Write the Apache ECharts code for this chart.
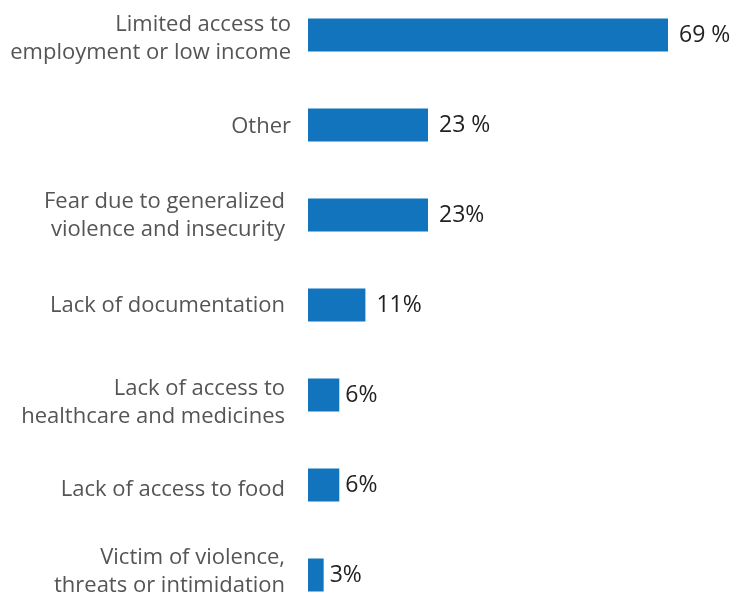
<!DOCTYPE html>
<html>
<head>
<meta charset="utf-8">
<script src="https://cdn.jsdelivr.net/npm/echarts@6/dist/echarts.min.js"></script>
<style>
  html, body { margin: 0; padding: 0; background: #ffffff; overflow: hidden; }
  body { width: 734px; height: 593px; position: relative; }
  /* the plot bands run slightly past the top and bottom edges of the page */
  #chart { position: absolute; left: 0; top: -10px; width: 734px; height: 630px; }
</style>
</head>
<body>
<div id="chart"></div>
<script>
// Reasons reported, share of respondents (%)
const categories = [
  'Limited access to\nemployment or low income',
  'Other',
  'Fear due to generalized\nviolence and insecurity',
  'Lack of documentation',
  'Lack of access to\nhealthcare and medicines',
  'Lack of access to food',
  'Victim of violence,\nthreats or intimidation'
];
const values = [69, 23, 23, 11, 6, 6, 3];
const valueLabels = ['69 %', '23 %', '23%', '11%', '6%', '6%', '3%'];

const FONT = '"Open Sans", sans-serif';

// per-row vertical nudge of the category text (px, positive = down)
const catShift = [4, 2, 1, 1, 8, 5, -3];
// rows whose category text sits a little further from the bars
const catInset = [false, false, true, true, true, true, true];
// gap between bar end and its value label
const valueGap = [11, 11, 11, 11, 6, 6, 6];

const rich = {
  ta: { fontFamily: FONT, fontSize: 22, color: '#555555', lineHeight: 28, align: 'right' },
  tb: { fontFamily: FONT, fontSize: 22, color: '#555555', lineHeight: 28, align: 'right', padding: [0, 6, 0, 0] }
};
catShift.forEach(function (d, i) {
  rich['sp' + i] = { fontSize: 1, lineHeight: Math.max(1, Math.abs(d) * 2), align: 'right' };
});

function catLabel(v, i) {
  const key = catInset[i] ? 'tb' : 'ta';
  let s = v.split('\n').map(function (l) { return '{' + key + '|' + l + '}'; }).join('\n');
  const d = catShift[i];
  if (d > 0) s = '{sp' + i + '| }\n' + s;
  else if (d < 0) s = s + '\n{sp' + i + '| }';
  return s;
}

const barData = values.map(function (v, i) {
  return { value: v, label: { distance: valueGap[i] } };
});

const chart = echarts.init(document.getElementById('chart'), null, { renderer: 'canvas' });

chart.setOption({
  animation: false,
  backgroundColor: '#ffffff',
  grid: { left: 308, right: 0, top: 0, bottom: 0, containLabel: false },
  xAxis: {
    type: 'value',
    min: 0,
    max: 81.65,
    show: false
  },
  yAxis: {
    type: 'category',
    data: categories,
    inverse: true,
    axisLine: { show: false },
    axisTick: { show: false },
    splitLine: { show: false },
    axisLabel: {
      margin: 17,
      formatter: function (v, i) { return catLabel(v, i); },
      rich: rich
    }
  },
  series: [{
    type: 'bar',
    data: barData,
    barWidth: 33,
    itemStyle: { color: '#1174bd' },
    label: {
      show: true,
      position: 'right',
      distance: 11,
      fontFamily: FONT,
      fontSize: 23,
      color: '#222222',
      formatter: function (p) { return valueLabels[p.dataIndex]; }
    }
  }]
});
</script>
</body>
</html>
